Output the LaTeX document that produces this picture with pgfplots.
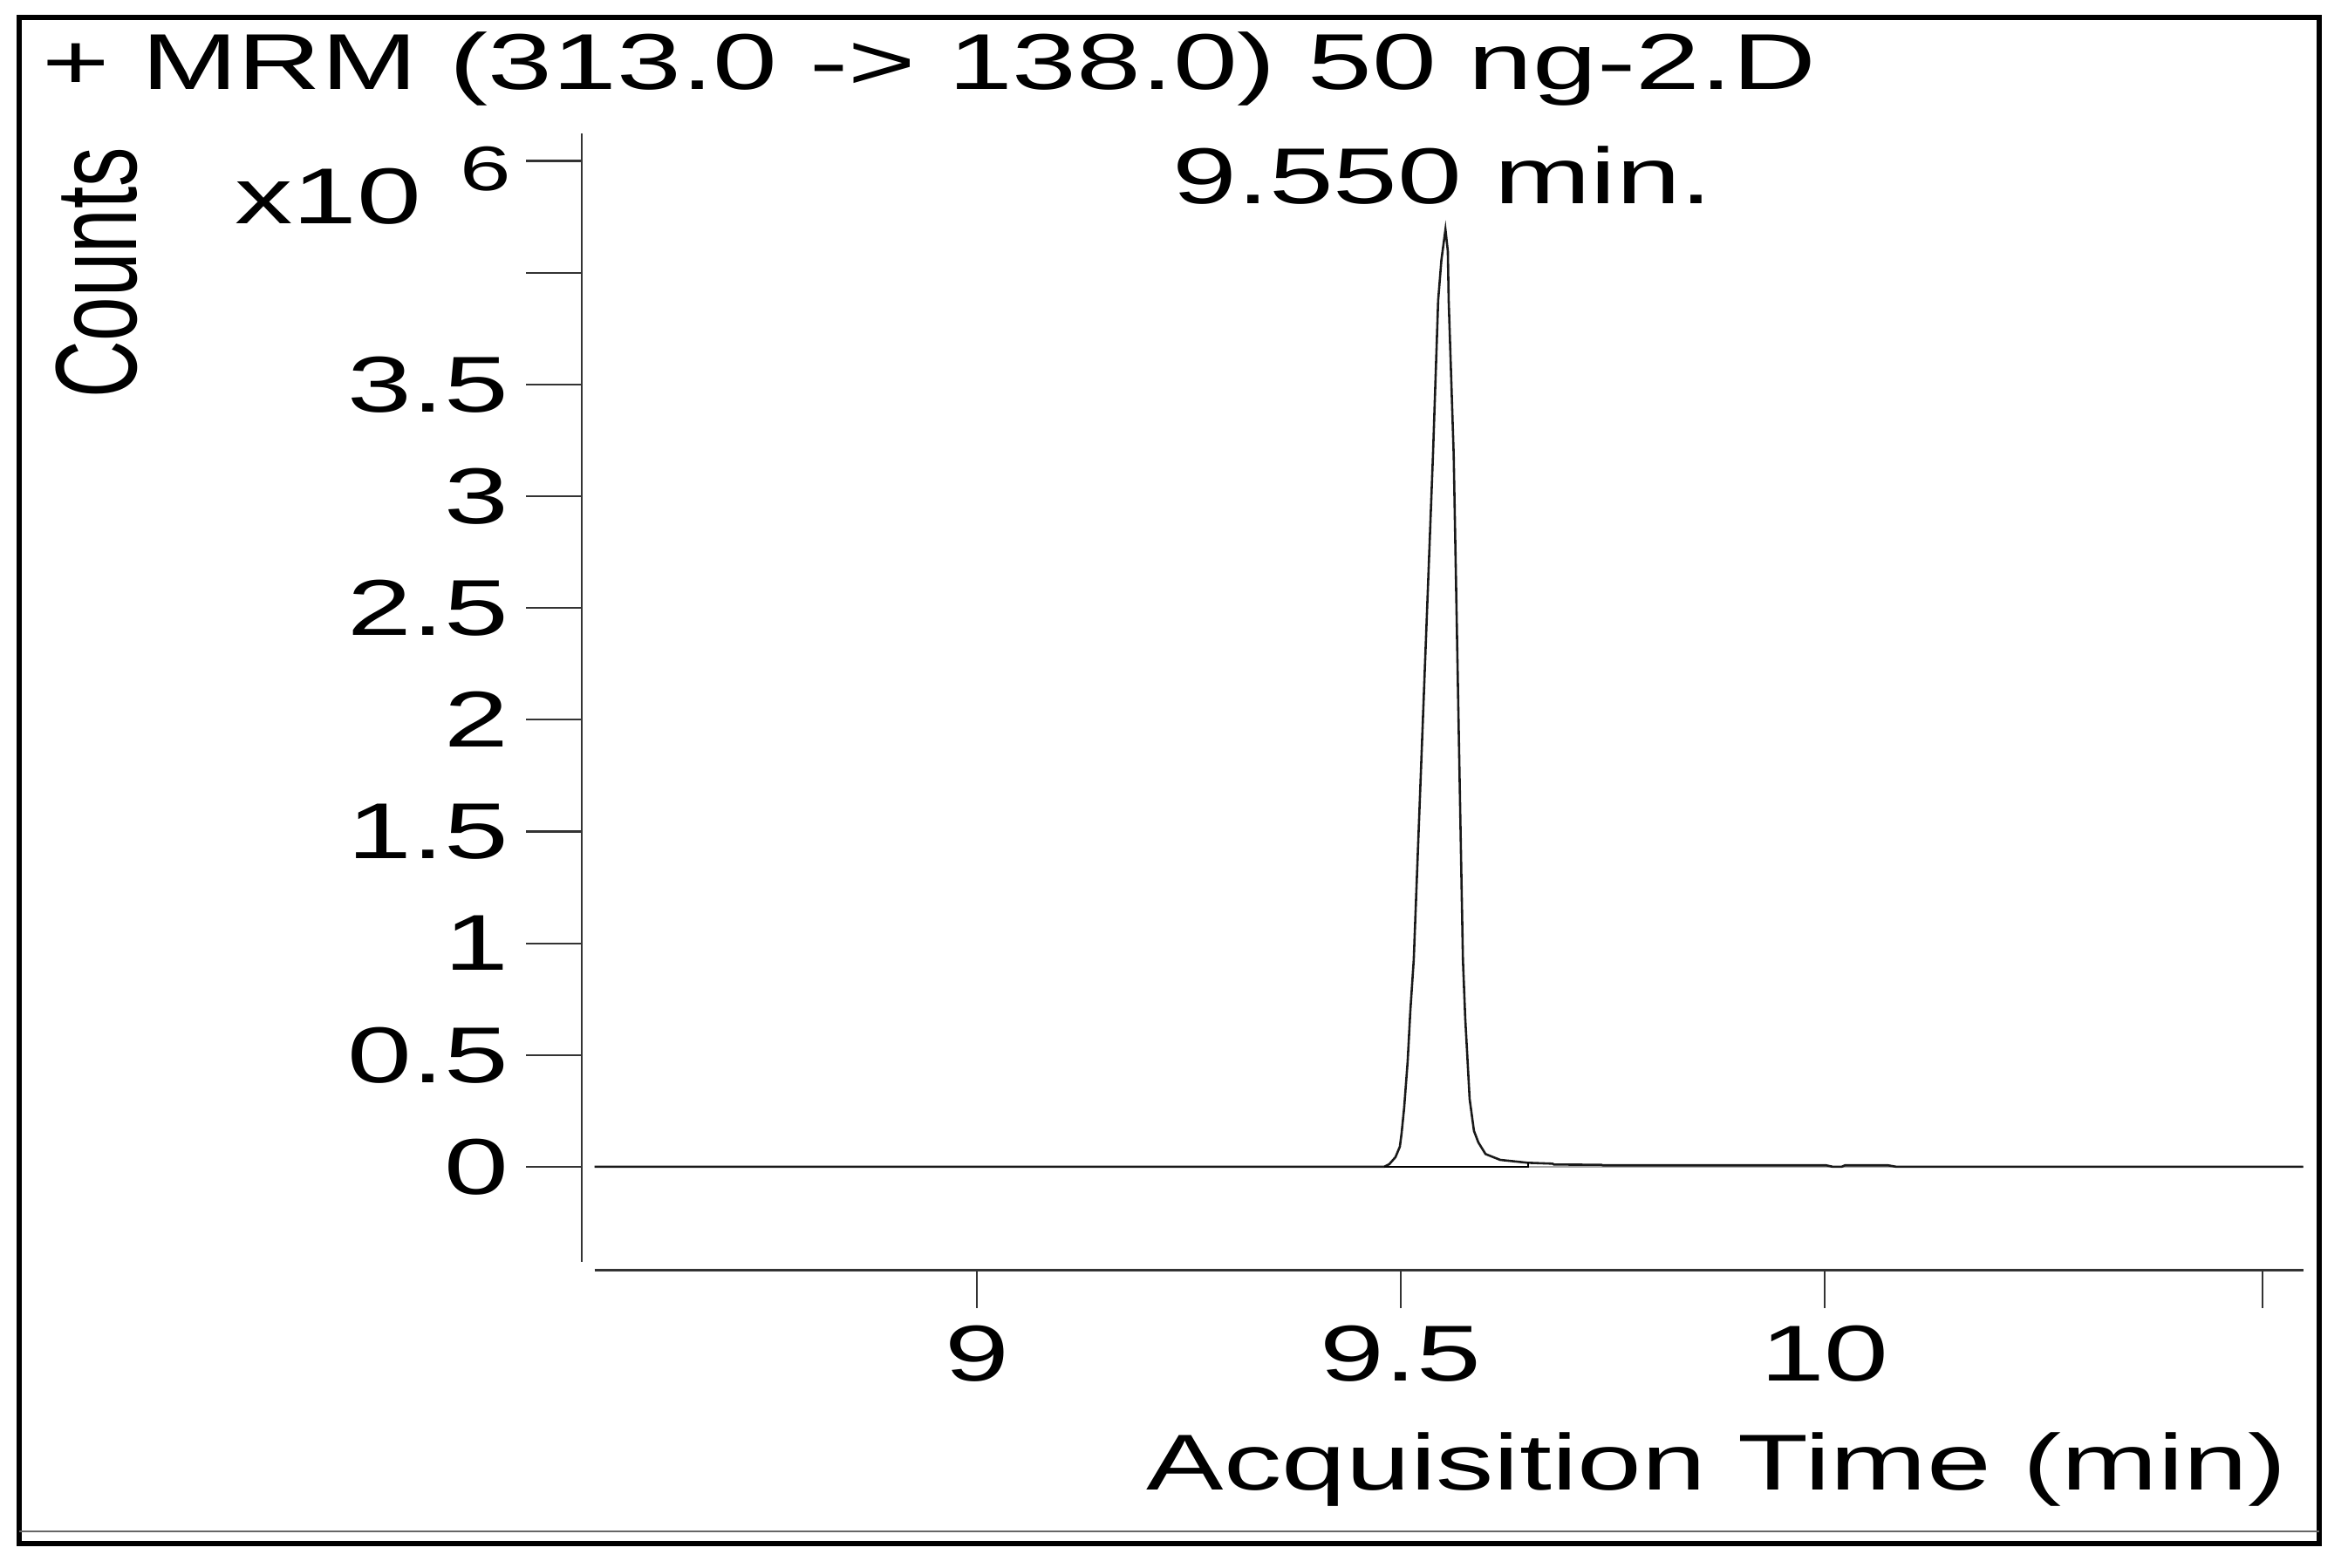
\documentclass[border=0pt]{standalone}
\usepackage{fontspec}
\setmainfont{Liberation Sans}[FakeStretch=1.46]
\newfontfamily\countsfont{Liberation Sans}[FakeStretch=0.685]
\usepackage{pgfplots}
\pgfplotsset{compat=1.18}

\begin{document}
\begin{tikzpicture}[font=\fontsize{10.58}{12}\selectfont]
% frame and texts, in pixel units of the reference (y downwards)
\begin{scope}[x=0.2pt,y=-0.2pt]
  \useasboundingbox (0,0) rectangle (1568,1047);
  \draw[line width=0.7pt] (12.8,11.6) rectangle (1549,1031);
  \draw[line width=0.25pt, black!60] (12.8,1022.7) -- (1549,1022.7);
  \node[anchor=base west, inner sep=0pt] at (27,60) {+ MRM (313.0 -> 138.0) 50 ng-2.D};
  \node[anchor=base, inner sep=0pt] at (963.5,136.3) {9.550 min.};
  \node[anchor=base west, inner sep=0pt] at (156,149.5) {x10};
  \node[anchor=base west, inner sep=0pt, font=\fontsize{8.4}{9}\selectfont] at (306,127) {6};
  \node[anchor=base west, inner sep=0pt, rotate=90, font=\countsfont\fontsize{15.45}{16}\selectfont] at (91,267) {Counts};
  \node[anchor=base east, inner sep=0pt] at (1528,995) {Acquisition Time (min)};
  % axis lines drawn apart from each other
  \draw[line width=0.25pt, black!80] (388.3,89) -- (388.3,842.6);
  \draw[line width=0.4pt, black!80] (397,848.5) -- (1538,848.5);
\end{scope}

\begin{axis}[
    at={(77.66pt,-169.7pt)}, anchor=south west,
    scale only axis, width=229.94pt, height=151.9pt,
    xmin=8.5336, xmax=10.5646, ymin=-0.4635, ymax=4.6236,
    axis line style={draw=none},
    tick align=outside,
    xtick pos=bottom, ytick pos=left,
    xtick={9,9.5,10,10.517}, xticklabels={9,9.5,10,{}},
    ytick={0,0.5,1,1.5,2,2.5,3,3.5,4,4.5},
    yticklabels={0,0.5,1,1.5,2,2.5,3,3.5,{},{}},
    minor tick num=0,
    xtick style={black!80, line width=0.25pt, /pgfplots/major tick length=5pt},
    ytick style={black!80, line width=0.25pt, /pgfplots/major tick length=7.4pt},
    /pgf/number format/assume math mode=true,
    ticklabel style={font=\fontsize{10.58}{12}\selectfont},
    xticklabel style={anchor=north, inner sep=0pt, yshift=-2.9pt},
    yticklabel style={anchor=east, inner sep=0pt, xshift=-5.3pt},
    clip=false,
  ]
  % zero line
  \addplot[gray!70, line width=0.3pt] coordinates {(8.549,0) (10.5646,0)};
  % chromatogram trace (counts x10^6)
  \addplot[black!90, line width=0.3pt] coordinates {
      (8.549,0) (9.4733,0) (9.4805,0) (9.4866,0.012) (9.4938,0.043)
      (9.4990,0.090) (9.5010,0.148) (9.5041,0.265) (9.5082,0.471)
      (9.5113,0.693) (9.5154,0.927) (9.5381,3.187) (9.5442,3.876)
      (9.5480,4.056) (9.5528,4.193) (9.5556,4.096) (9.5566,3.876)
      (9.5625,3.187) (9.5734,0.927) (9.5761,0.667) (9.5789,0.473)
      (9.5813,0.304) (9.5864,0.161) (9.5916,0.109) (9.6001,0.057)
      (9.6173,0.031) (9.6499,0.018) (9.6790,0.014) (9.6810,0.010)
      (9.7366,0.009) (9.7385,0.0065) (10.002,0.0065) (10.010,0.0)
      (10.020,0.0) (10.024,0.0065) (10.075,0.0065) (10.085,0.0)
      (10.5646,0)
    };
  % integration baseline
  \addplot[black, line width=0.25pt] coordinates {(9.4805,0) (9.6499,0) (9.6499,0.018)};
\end{axis}
\end{tikzpicture}
\end{document}
